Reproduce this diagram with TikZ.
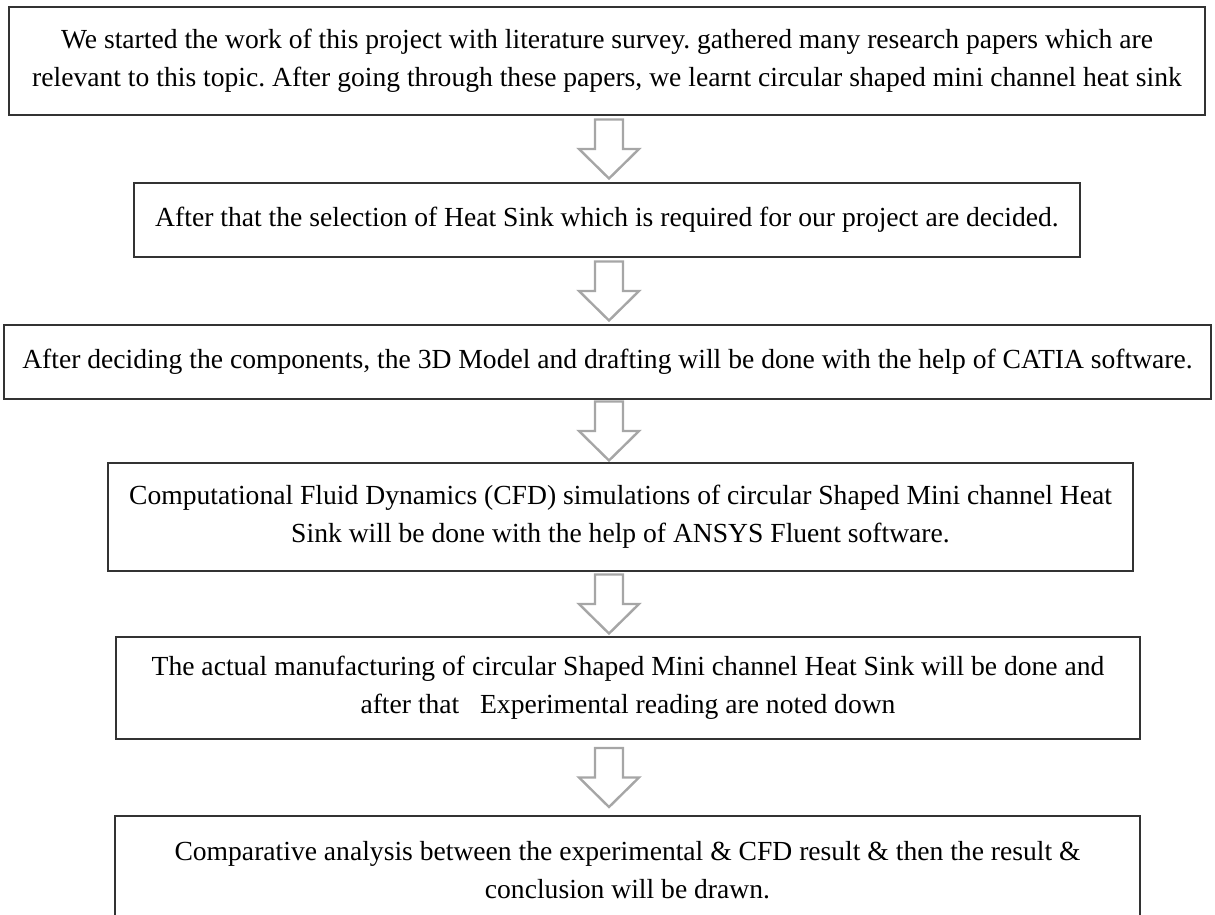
\documentclass[tikz,border=0pt]{standalone}
\usepackage{fontspec}
\setmainfont{Liberation Serif}
\usetikzlibrary{calc}
\frenchspacing
\tikzset{
  stagebox/.style={draw=black!80, line width=1pt, align=center, inner sep=0pt,
    font=\fontsize{13.8}{19}\selectfont},
  arrowline/.style={draw=black!35, line width=1.2pt, line join=miter, fill=white},
  pics/downblock/.style={code={
    \draw[arrowline] (-14,-29.5) -- (14,-29.5) -- (14,0) -- (30,0) -- (0,29.5)
      -- (-30,0) -- (-14,0) -- cycle;}}
}

\begin{document}
\begin{tikzpicture}[x=0.5pt, y=-0.5pt]

   % page frame
   \useasboundingbox (0,0) rectangle (1215,915);
   \clip (0,0) rectangle (1215,915);

   % the six stages
   \node[stagebox, minimum width=598pt, minimum height=54pt] (survey) at (607,61)
     {We started the work of this project with literature survey. gathered many research papers which are\\
      relevant to this topic. After going through these papers, we learnt circular shaped mini channel heat sink};
   \node[stagebox, minimum width=473pt, minimum height=37pt] (select) at (607,220)
     {After that the selection of Heat Sink which is required for our project are decided.};
   \node[stagebox, minimum width=603.5pt, minimum height=37pt] (model) at (607.5,362)
     {After deciding the components, the 3D Model and drafting will be done with the help of CATIA software.};
   \node[stagebox, minimum width=512.5pt, minimum height=54pt] (cfd) at (620.5,517)
     {Computational Fluid Dynamics (CFD) simulations of circular Shaped Mini channel Heat\\
      Sink will be done with the help of ANSYS Fluent software.};
   \node[stagebox, minimum width=512pt, minimum height=51pt] (manuf) at (628,688)
     {The actual manufacturing of circular Shaped Mini channel Heat Sink will be done and\\
      after that \ \ Experimental reading are noted down};
   \node[stagebox, minimum width=512.5pt, minimum height=54pt] (compare) at (627.5,870)
     {Comparative analysis between the experimental \& CFD result \& then the result \&\\
      conclusion will be drawn.};

   % hollow arrows between the stages
   \coordinate (axis) at (609,0);
   \coordinate (g1) at ($(survey.south)!0.5!(select.north)$);
   \coordinate (g2) at ($(select.south)!0.5!(model.north)$);
   \coordinate (g3) at ($(model.south)!0.5!(cfd.north)$);
   \coordinate (g4) at ($(cfd.south)!0.5!(manuf.north)$);
   \coordinate (g5) at ($(manuf.south)!0.5!(compare.north)$);
   \foreach \g in {g1,g2,g3,g4,g5}
     \pic at (\g -| axis) {downblock};

\end{tikzpicture}
\end{document}
